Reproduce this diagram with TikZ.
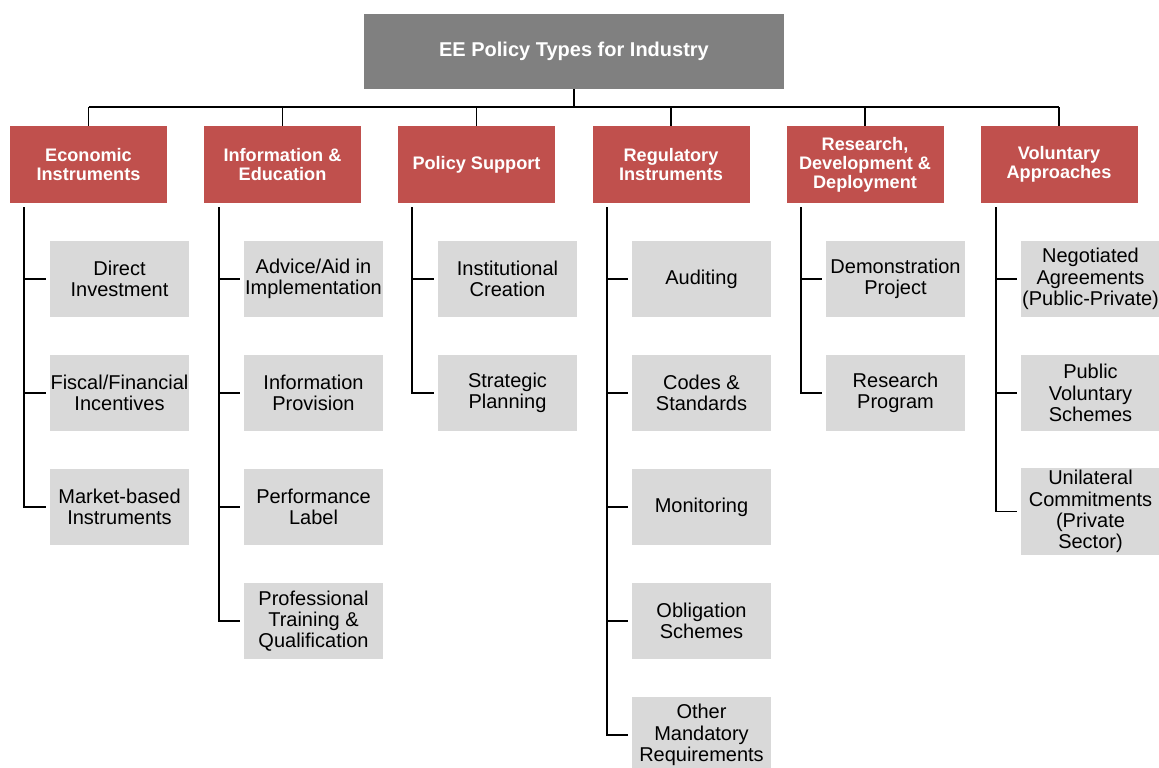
\documentclass[tikz,border=0pt]{standalone}
\usepackage{fontspec}
\setmainfont{Liberation Sans}
\usetikzlibrary{positioning}
\definecolor{catred}{RGB}{192,80,77}
\definecolor{topgray}{RGB}{128,128,128}
\definecolor{leafgray}{RGB}{217,217,217}

\begin{document}
\begin{tikzpicture}[x=0.75pt,y=-0.75pt,
  topbox/.style={fill=topgray,text=white,font=\fontsize{15}{17}\selectfont\bfseries,
    minimum width=315pt,minimum height=56.25pt,inner sep=0pt,align=center},
  catbox/.style={fill=catred,text=white,font=\fontsize{13.6}{14.3}\selectfont\bfseries,
    minimum width=117.75pt,minimum height=57.75pt,inner sep=0pt,align=center},
  leafbox/.style={fill=leafgray,font=\fontsize{15}{16}\selectfont,
    minimum width=104.25pt,minimum height=57pt,inner sep=0pt,align=center},
  wire/.style={line width=0.8pt}]
\useasboundingbox (0,0) rectangle (1159,767);
%%%%%%%%% top and categories
\node [topbox] (root) at (574,51.5) {EE Policy Types for Industry};
\node [catbox] (eco) at (88.5,164.5) {Economic\\Instruments};
\node [catbox] (inf) at (282.5,164.5) {Information \&\\Education};
\node [catbox] (pol) at (476.5,164.5) {Policy Support};
\node [catbox] (reg) at (671,164.5) {Regulatory\\Instruments};
\node [catbox] (rdd) at (865,164.5) {Research,\\Development \&\\Deployment};
\node [catbox] (vol) at (1059,164.5) {Voluntary\\Approaches};
\coordinate (bus) at (574,107);
\draw [wire] (root.south) -- (bus);
\draw [wire] (eco.north |- bus) -- (vol.north |- bus);
\draw [wire] (eco.north |- bus) -- (eco.north);
\draw [wire] (inf.north |- bus) -- (inf.north);
\draw [wire] (pol.north |- bus) -- (pol.north);
\draw [wire] (reg.north |- bus) -- (reg.north);
\draw [wire] (rdd.north |- bus) -- (rdd.north);
\draw [wire] (vol.north |- bus) -- (vol.north);
%%%%%%%%% economic
\node [leafbox] (eco1) at (119.5,279) {Direct\\Investment};
\node [leafbox] (eco2) at (119.5,393) {Fiscal/Financial\\Incentives};
\node [leafbox] (eco3) at (119.5,507) {Market-based\\Instruments};
\coordinate (ecol) at (24,207);
\draw [wire] (ecol) |- ([xshift=-2.5pt]eco1.west);
\draw [wire] (ecol) |- ([xshift=-2.5pt]eco2.west);
\draw [wire] (ecol) |- ([xshift=-2.5pt]eco3.west);
%%%%%%%%% information
\node [leafbox] (inf1) at (313.5,279) {Advice/Aid in\\Implementation};
\node [leafbox] (inf2) at (313.5,393) {Information\\Provision};
\node [leafbox] (inf3) at (313.5,507) {Performance\\Label};
\node [leafbox] (inf4) at (313.5,621) {Professional\\Training \&\\Qualification};
\coordinate (infl) at (219,207);
\draw [wire] (infl) |- ([xshift=-2.5pt]inf1.west);
\draw [wire] (infl) |- ([xshift=-2.5pt]inf2.west);
\draw [wire] (infl) |- ([xshift=-2.5pt]inf3.west);
\draw [wire] (infl) |- ([xshift=-2.5pt]inf4.west);
%%%%%%%%% policy support
\node [leafbox] (pol1) at (507.5,279) {Institutional\\Creation};
\node [leafbox] (pol2) at (507.5,393) {Strategic\\Planning};
\coordinate (poll) at (412,207);
\draw [wire] (poll) |- ([xshift=-2.5pt]pol1.west);
\draw [wire] (poll) |- ([xshift=-2.5pt]pol2.west);
%%%%%%%%% regulatory
\node [leafbox] (reg1) at (701.5,279) {Auditing};
\node [leafbox] (reg2) at (701.5,393) {Codes \&\\Standards};
\node [leafbox] (reg3) at (701.5,507) {Monitoring};
\node [leafbox] (reg4) at (701.5,621) {Obligation\\Schemes};
\node [leafbox] (reg5) at (701.5,735) {Other\\Mandatory\\Requirements};
\coordinate (regl) at (607,207);
\draw [wire] (regl) |- ([xshift=-2.5pt]reg1.west);
\draw [wire] (regl) |- ([xshift=-2.5pt]reg2.west);
\draw [wire] (regl) |- ([xshift=-2.5pt]reg3.west);
\draw [wire] (regl) |- ([xshift=-2.5pt]reg4.west);
\draw [wire] (regl) |- ([xshift=-2.5pt]reg5.west);
%%%%%%%%% research
\node [leafbox] (rdd1) at (895.5,279) {Demonstration\\Project};
\node [leafbox] (rdd2) at (895.5,393) {Research\\Program};
\coordinate (rddl) at (801,207);
\draw [wire] (rddl) |- ([xshift=-2.5pt]rdd1.west);
\draw [wire] (rddl) |- ([xshift=-2.5pt]rdd2.west);
%%%%%%%%% voluntary
\node [leafbox] (vol1) at (1090.5,279) {Negotiated\\Agreements\\(Public-Private)};
\node [leafbox] (vol2) at (1090.5,393) {Public\\Voluntary\\Schemes};
\node [leafbox,minimum height=65.25pt] (vol3) at (1090.5,511.5) {Unilateral\\Commitments\\(Private\\Sector)};
\coordinate (voll) at (996,207);
\draw [wire] (voll) |- ([xshift=-2.5pt]vol1.west);
\draw [wire] (voll) |- ([xshift=-2.5pt]vol2.west);
\draw [wire] (voll) |- ([xshift=-2.5pt]vol3.west);
\end{tikzpicture}
\end{document}
